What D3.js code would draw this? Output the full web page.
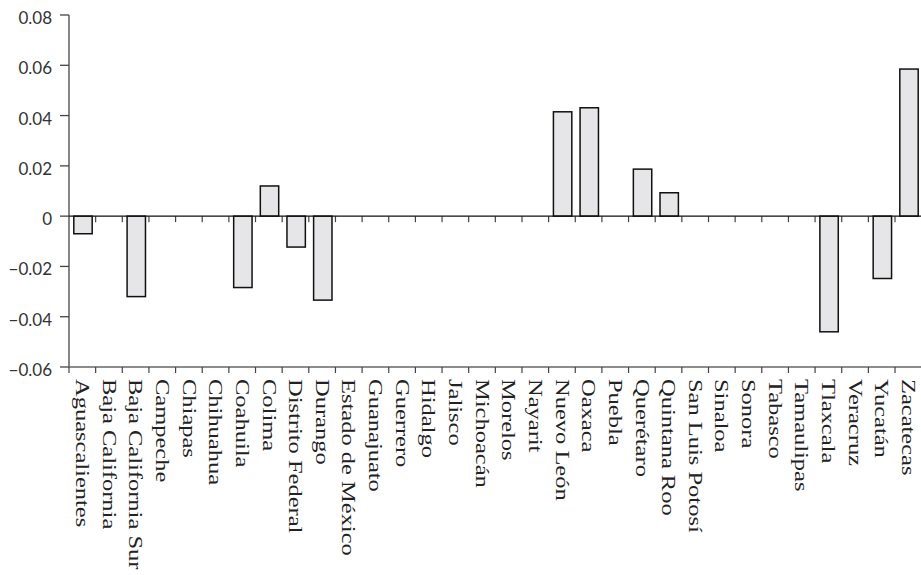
<!doctype html>
<html>
<head>
<meta charset="utf-8">
<title>Estados</title>
<style>
  body { margin: 0; background: #fff; }
  svg { display: block; }
  .ytick text { font-family: Lato, "Open Sans", sans-serif; font-size: 17px; fill: #333; }
  .xlab { font-family: "Liberation Serif", "DejaVu Serif", serif; font-size: 19px; fill: #222; }
</style>
</head>
<body>
<svg id="chart" width="921" height="575"></svg>

<script src="https://d3js.org/d3.v7.min.js"></script>
<script>
var states = ["Aguascalientes", "Baja California", "Baja California Sur", "Campeche",
  "Chiapas", "Chihuahua", "Coahuila", "Colima", "Distrito Federal", "Durango",
  "Estado de México", "Guanajuato", "Guerrero", "Hidalgo", "Jalisco", "Michoacán",
  "Morelos", "Nayarit", "Nuevo León", "Oaxaca", "Puebla", "Querétaro", "Quintana Roo",
  "San Luis Potosí", "Sinaloa", "Sonora", "Tabasco", "Tamaulipas", "Tlaxcala",
  "Veracruz", "Yucatán", "Zacatecas"];

var values = [-0.007, 0, -0.032, 0, 0, 0, -0.0284, 0.012, -0.0123, -0.0334,
  0, 0, 0, 0, 0, 0, 0, 0, 0.0415, 0.0431, 0, 0.0187, 0.0093,
  0, 0, 0, 0, 0, -0.046, 0, -0.0248, 0.0585];

var yTicks = [-0.06, -0.04, -0.02, 0, 0.02, 0.04, 0.06, 0.08];

var svg = d3.select("#chart");

var x = d3.scaleBand()
    .domain(states)
    .range([69, 923])
    .paddingInner(0.31)
    .paddingOuter(0.18);

var y = d3.scaleLinear()
    .domain([-0.06, 0.08])
    .range([367, 15]);

var fmt = function (d) {
  if (d === 0) return "0";
  return (d < 0 ? "\u2212" : "") + Math.abs(d).toFixed(2);
};

// cut-off title fragment at the top, as in the source
svg.append("text")
    .attr("x", 642)
    .attr("y", -3)
    .attr("font-family", "Lato, sans-serif")
    .attr("font-size", 18)
    .attr("fill", "#444")
    .text("g");

// y axis
var yAxis = svg.append("g");
yAxis.append("line")
    .attr("x1", 69).attr("x2", 69)
    .attr("y1", y(0.08)).attr("y2", y(-0.06))
    .attr("stroke", "#444").attr("stroke-width", 1.3);

var yt = yAxis.selectAll(".ytick")
    .data(yTicks)
    .enter().append("g")
    .attr("class", "ytick")
    .attr("transform", function (d) { return "translate(0," + y(d) + ")"; });
yt.append("line")
    .attr("x1", 60).attr("x2", 69)
    .attr("stroke", "#444").attr("stroke-width", 1.3);
yt.append("text")
    .attr("x", 52)
    .attr("y", 9)
    .attr("text-anchor", "end")
    .text(fmt);

// bottom axis line and boundary ticks
var bounds = d3.range(states.length + 1).map(function (i) {
  return x.range()[0] + i * x.step();
});

svg.append("line")
    .attr("x1", 69).attr("x2", 921)
    .attr("y1", y(-0.06)).attr("y2", y(-0.06))
    .attr("stroke", "#666").attr("stroke-width", 1.3);
svg.selectAll(".btick")
    .data(bounds)
    .enter().append("line")
    .attr("class", "btick")
    .attr("x1", function (d) { return d; }).attr("x2", function (d) { return d; })
    .attr("y1", y(-0.06)).attr("y2", y(-0.06) + 6)
    .attr("stroke", "#444").attr("stroke-width", 1.2);

// zero line ticks
svg.selectAll(".ztick")
    .data(bounds.slice(1))
    .enter().append("line")
    .attr("class", "ztick")
    .attr("x1", function (d) { return d; }).attr("x2", function (d) { return d; })
    .attr("y1", y(0)).attr("y2", y(0) + 6)
    .attr("stroke", "#444").attr("stroke-width", 1.2);

// bars
svg.selectAll(".bar")
    .data(values.map(function (v, i) { return { s: states[i], v: v }; })
      .filter(function (d) { return d.v !== 0; }))
    .enter().append("rect")
    .attr("class", "bar")
    .attr("x", function (d) { return x(d.s); })
    .attr("width", x.bandwidth())
    .attr("y", function (d) { return y(Math.max(0, d.v)); })
    .attr("height", function (d) { return Math.abs(y(d.v) - y(0)); })
    .attr("fill", "#e6e6e8")
    .attr("stroke", "#111")
    .attr("stroke-width", 1.5);

// zero line
svg.append("line")
    .attr("x1", 69).attr("x2", 921)
    .attr("y1", y(0)).attr("y2", y(0))
    .attr("stroke", "#111").attr("stroke-width", 1.3);

// category labels, rotated, reading downward
svg.selectAll(".xlab")
    .data(states)
    .enter().append("text")
    .attr("class", "xlab")
    .attr("transform", function (d) {
      return "translate(" + (x(d) + x.bandwidth() / 2 - 7) + ",379) rotate(90) scale(1.29,1)";
    })
    .text(function (d) { return d; });
</script>
</body>
</html>
